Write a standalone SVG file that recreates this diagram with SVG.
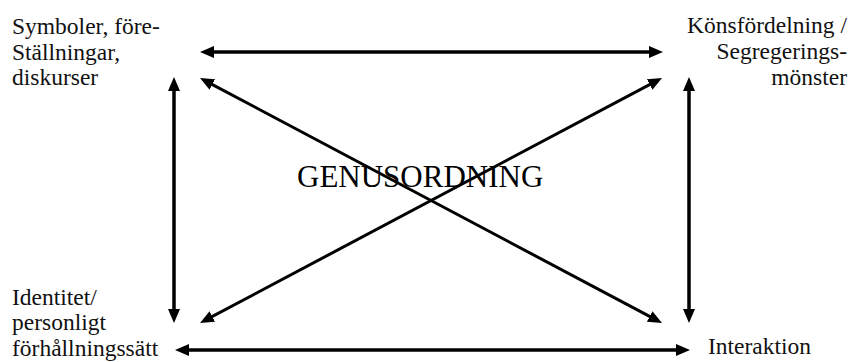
<svg xmlns="http://www.w3.org/2000/svg" width="857" height="362" viewBox="0 0 857 362">
<style>
.lbl{font-size:23.5px;fill:#111}
.title{font-size:31px;fill:#000}
.c{stroke:#000;fill:none}
.hv{stroke-width:3.5}
.dg{stroke-width:3}
</style>
<defs>
<marker id="ah" viewBox="0 0 14 12" refX="9" refY="6" markerWidth="14" markerHeight="12" markerUnits="userSpaceOnUse" orient="auto-start-reverse">
<path d="M0,0 L14,6 L0,12 z" fill="#000"/>
</marker>
</defs>
<rect width="857" height="362" fill="#fff"/>
<g id="connectors">
<line class="c hv" x1="205" y1="52" x2="658" y2="52" marker-start="url(#ah)" marker-end="url(#ah)"/>
<line class="c hv" x1="180" y1="350" x2="685" y2="350" marker-start="url(#ah)" marker-end="url(#ah)"/>
<line class="c hv" x1="174" y1="82" x2="174" y2="318" marker-start="url(#ah)" marker-end="url(#ah)"/>
<line class="c hv" x1="689" y1="82" x2="689" y2="318" marker-start="url(#ah)" marker-end="url(#ah)"/>
<line class="c dg" x1="204.4" y1="80.3" x2="657.6" y2="320.7" marker-start="url(#ah)" marker-end="url(#ah)"/>
<line class="c dg" x1="204.4" y1="320.7" x2="657.6" y2="80.3" marker-start="url(#ah)" marker-end="url(#ah)"/>
</g>
<g font-family="'Liberation Serif', 'DejaVu Serif', 'Times New Roman', serif">
<g id="symboler">
<text class="lbl" x="12" y="34">Symboler, före-</text>
<text class="lbl" x="12" y="60">Ställningar,</text>
<text class="lbl" x="12" y="85">diskurser</text>
</g>
<g id="konsfordelning">
<text class="lbl" x="847" y="33" text-anchor="end">Könsfördelning /</text>
<text class="lbl" x="847" y="59" text-anchor="end">Segregerings-</text>
<text class="lbl" x="847" y="85" text-anchor="end">mönster</text>
</g>
<g id="identitet">
<text class="lbl" x="12" y="305">Identitet/</text>
<text class="lbl" x="12" y="330">personligt</text>
<text class="lbl" x="12" y="356">förhållningssätt</text>
</g>
<g id="interaktion">
<text class="lbl" x="708" y="354">Interaktion</text>
</g>
<g id="genusordning">
<text class="title" x="297" y="187">GENUSORDNING</text>
</g>
</g>
</svg>
